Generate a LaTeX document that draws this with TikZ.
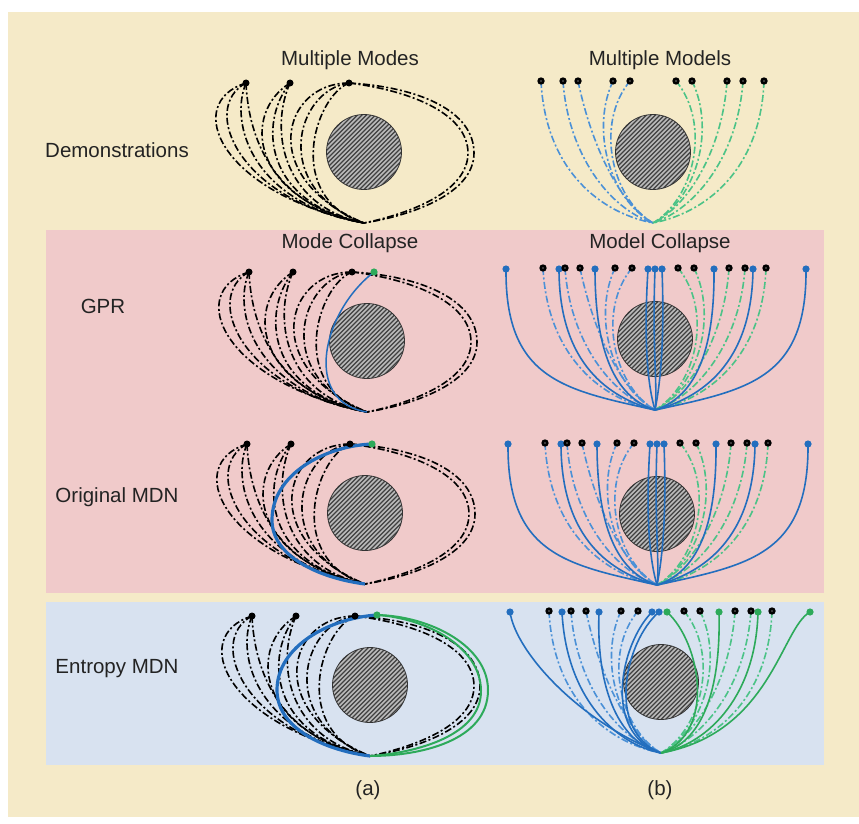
\documentclass[tikz,border=0pt]{standalone}
\usepackage{xcolor}
\usepackage{fontspec}
\setmainfont{Liberation Sans}
\usepackage{tikz}
\usetikzlibrary{calc}

\definecolor{bgbeige}{RGB}{245,234,200}
\definecolor{bgpink}{RGB}{240,202,202}
\definecolor{bgblue}{RGB}{216,226,240}
\definecolor{predblue}{RGB}{35,110,190}
\definecolor{predgreen}{RGB}{45,170,90}
\definecolor{demoblue}{RGB}{75,145,215}
\definecolor{demogreen}{RGB}{75,195,135}
\definecolor{txtgray}{RGB}{35,35,35}

\tikzset{
	demoline/.style={line width=1.6pt,dash pattern=on 7pt off 2.5pt on 2pt off 2.5pt},
	predline/.style={line width=1.6pt,predblue},
	lbl/.style={font=\fontsize{20.5}{24}\selectfont,text=txtgray}
}

% hatched obstacle, local coordinates (end point at origin)
\newcommand{\obstacle}{%
	\begin{scope}
		\clip (0,-71) circle (37.5);
		\fill[gray!55] (0,-71) circle (37.5);
		\foreach \k in {-84,-79.5,...,84}
			\draw[line width=1.1pt,black!75] (\k-40,-31) -- (\k+40,-111);
	\end{scope}
	\draw[line width=0.8pt,black!80] (0,-71) circle (37.5);
}

% demonstrations of the left column
\newcommand{\leftdemos}{%
	\draw[demoline] (-118,-140) .. controls (-182,-120) and (-145,-30) .. (0,0);
	\draw[demoline] (-118,-140) .. controls (-165,-115) and (-125,-22) .. (0,0);
	\draw[demoline] (-118,-140) .. controls (-135,-100) and (-112,-20) .. (0,0);
	\draw[demoline] (-118,-140) .. controls (-116,-95) and (-98,-18) .. (0,0);
	\draw[demoline] (-74,-140) .. controls (-122,-110) and (-115,-25) .. (0,0);
	\draw[demoline] (-74,-140) .. controls (-106,-100) and (-100,-20) .. (0,0);
	\draw[demoline] (-74,-140) .. controls (-94,-95) and (-84,-18) .. (0,0);
	\draw[demoline] (-15,-140) .. controls (-82,-140) and (-108,-45) .. (0,0);
	\draw[demoline] (-15,-140) .. controls (-68,-133) and (-95,-35) .. (0,0);
	\draw[demoline] (-15,-140) .. controls (-50,-126) and (-80,-25) .. (0,0);
	\draw[demoline] (-15,-140) .. controls (55,-136) and (110,-112) .. (110,-70) .. controls (110,-30) and (50,-8) .. (0,0);
	\draw[demoline] (-15,-140) .. controls (50,-132) and (104,-108) .. (104,-70) .. controls (104,-32) and (48,-10) .. (0,0);
}
\newcommand{\leftstarts}{%
	\foreach \sx in {-118,-74,-15}
		\fill[black] (\sx,-140) circle (3.5);
}

% demonstrations of the right column
\newcommand{\rightdemos}{%
	\draw[demoline,demoblue] (-112,-142) .. controls (-108,-60) and (-60,-12) .. (0,0);
	\draw[demoline,demoblue] (-90,-142) .. controls (-85,-70) and (-45,-15) .. (0,0);
	\draw[demoline,demoblue] (-75,-142) .. controls (-62,-80) and (-35,-20) .. (0,0);
	\draw[demoline,demoblue] (-40,-142) .. controls (-62,-95) and (-45,-25) .. (0,0);
	\draw[demoline,demoblue] (-23,-142) .. controls (-58,-100) and (-42,-25) .. (0,0);
	\draw[demoline,demogreen] (23,-142) .. controls (58,-100) and (42,-25) .. (0,0);
	\draw[demoline,demogreen] (39,-142) .. controls (62,-95) and (45,-25) .. (0,0);
	\draw[demoline,demogreen] (74,-142) .. controls (70,-80) and (40,-20) .. (0,0);
	\draw[demoline,demogreen] (90,-142) .. controls (85,-70) and (45,-15) .. (0,0);
	\draw[demoline,demogreen] (111,-142) .. controls (108,-60) and (60,-12) .. (0,0);
}
\newcommand{\rightstarts}{%
	\foreach \sx in {-112,-90,-75,-40,-23,23,39,74,90,111}{
		\fill[black] (\sx,-142) circle (3.7);
		\fill[black!55] (\sx,-142) circle (0.9);
	}
}

% single-model predictions (GPR, original MDN)
\newcommand{\rightpreds}{%
	\draw[predline] (-149,-141) .. controls (-150,-30) and (-90,-20) .. (0,0);
	\draw[predline] (-96,-141) .. controls (-96,-45) and (-45,-12) .. (0,0);
	\draw[predline] (-60,-141) .. controls (-60,-40) and (-30,-10) .. (0,0);
	\draw[predline] (-7,-141) .. controls (-12,-60) and (-6,-20) .. (0,0);
	\draw[predline] (0,-141) .. controls (-3,-60) and (3,-20) .. (0,0);
	\draw[predline] (7,-141) .. controls (10,-60) and (4,-20) .. (0,0);
	\draw[predline] (59,-141) .. controls (60,-40) and (30,-10) .. (0,0);
	\draw[predline] (98,-141) .. controls (97,-45) and (45,-12) .. (0,0);
	\draw[predline] (151,-141) .. controls (152,-30) and (92,-20) .. (0,0);
	\foreach \sx in {-149,-96,-60,-7,0,7,59,98,151}
		\fill[predblue] (\sx,-141) circle (3.6);
}

\begin{document}
\begin{tikzpicture}[x=1pt,y=-1pt]
	\useasboundingbox (0,0) rectangle (859,824);
	\fill[white] (0,0) rectangle (859,824);
	\fill[bgbeige] (8,12) rectangle (859,817);
	\fill[bgpink] (46,230) rectangle (824,593);
	\fill[bgblue] (46,602) rectangle (824,765);

	% labels
	\node[lbl] (tModes) at (350,60) {Multiple Modes};
	\node[lbl] (tModels) at (660,60) {Multiple Models};
	\node[lbl] (tModeCol) at (350,243) {Mode Collapse};
	\node[lbl] (tModelCol) at (660,243) {Model Collapse};
	\node[lbl] (rDemo) at (117,150) {Demonstrations};
	\node[lbl] (rGPR) at (103,306) {GPR};
	\node[lbl] (rMDN) at (117,497) {Original MDN};
	\node[lbl] (rEMDN) at (117,669) {Entropy MDN};
	\node[lbl] (capA) at (368,790) {(a)};
	\node[lbl] (capB) at (660,790) {(b)};

	% demonstrations
	\begin{scope}[shift={(364,223)}]
		\obstacle
		\leftdemos
		\leftstarts
	\end{scope}
	\begin{scope}[shift={(653,223)}]
		\obstacle
		\rightdemos
		\rightstarts
	\end{scope}

	% GPR
	\begin{scope}[shift={(367,412)}]
		\obstacle
		\leftdemos
		\draw[line width=1.5pt,predblue] (7,-140) .. controls (-45,-100) and (-65,-10) .. (0,0);
		\leftstarts
		\fill[predgreen] (7,-140) circle (3.6);
	\end{scope}
	\begin{scope}[shift={(655,410)}]
		\obstacle
		\rightdemos
		\rightpreds
		\rightstarts
	\end{scope}

	% original MDN
	\begin{scope}[shift={(365,584)}]
		\obstacle
		\leftdemos
		\draw[line width=3.2pt,predblue] (7,-140) .. controls (-40,-138) and (-93,-110) .. (-93,-64) .. controls (-93,-25) and (-40,-5) .. (0,0);
		\leftstarts
		\fill[predgreen] (7,-140) circle (3.6);
	\end{scope}
	\begin{scope}[shift={(657,585)}]
		\obstacle
		\rightdemos
		\rightpreds
		\rightstarts
	\end{scope}

	% entropy MDN
	\begin{scope}[shift={(370,756)}]
		\obstacle
		\leftdemos
		\draw[line width=3.2pt,predblue] (7,-141) .. controls (-40,-138) and (-93,-110) .. (-93,-66) .. controls (-93,-25) and (-40,-5) .. (0,0);
		\draw[line width=2pt,predgreen] (7,-141) .. controls (60,-140) and (118,-110) .. (118,-66) .. controls (118,-15) and (50,0) .. (0,0);
		\draw[line width=2pt,predgreen] (7,-141) .. controls (55,-138) and (110,-110) .. (111,-66) .. controls (112,-20) and (45,-3) .. (0,0);
		\leftstarts
		\fill[predgreen] (7,-141) circle (3.6);
	\end{scope}
	\begin{scope}[shift={(661,753)}]
		\obstacle
		\rightdemos
		\draw[predline] (-151,-141) .. controls (-145,-100) and (-80,-30) .. (0,0);
		\draw[predline] (-99,-141) .. controls (-95,-60) and (-50,-10) .. (0,0);
		\draw[predline] (-62,-141) .. controls (-65,-60) and (-40,-10) .. (0,0);
		\draw[predline] (-9,-141) .. controls (-40,-110) and (-60,-20) .. (0,0);
		\draw[predline] (-2,-141) .. controls (-36,-112) and (-56,-22) .. (0,0);
		\draw[line width=1.6pt,predgreen] (6,-141) .. controls (40,-110) and (55,-20) .. (0,0);
		\draw[line width=1.6pt,predgreen] (58,-141) .. controls (60,-60) and (40,-10) .. (0,0);
		\draw[line width=1.6pt,predgreen] (97,-141) .. controls (95,-60) and (50,-10) .. (0,0);
		\draw[line width=1.6pt,predgreen] (149,-141) .. controls (120,-125) and (110,-20) .. (0,0);
		\rightstarts
		\foreach \sx in {-151,-99,-62,-9,-2}
			\fill[predblue] (\sx,-141) circle (3.6);
		\foreach \sx in {6,58,97,149}
			\fill[predgreen] (\sx,-141) circle (3.6);
	\end{scope}
\end{tikzpicture}
\end{document}
